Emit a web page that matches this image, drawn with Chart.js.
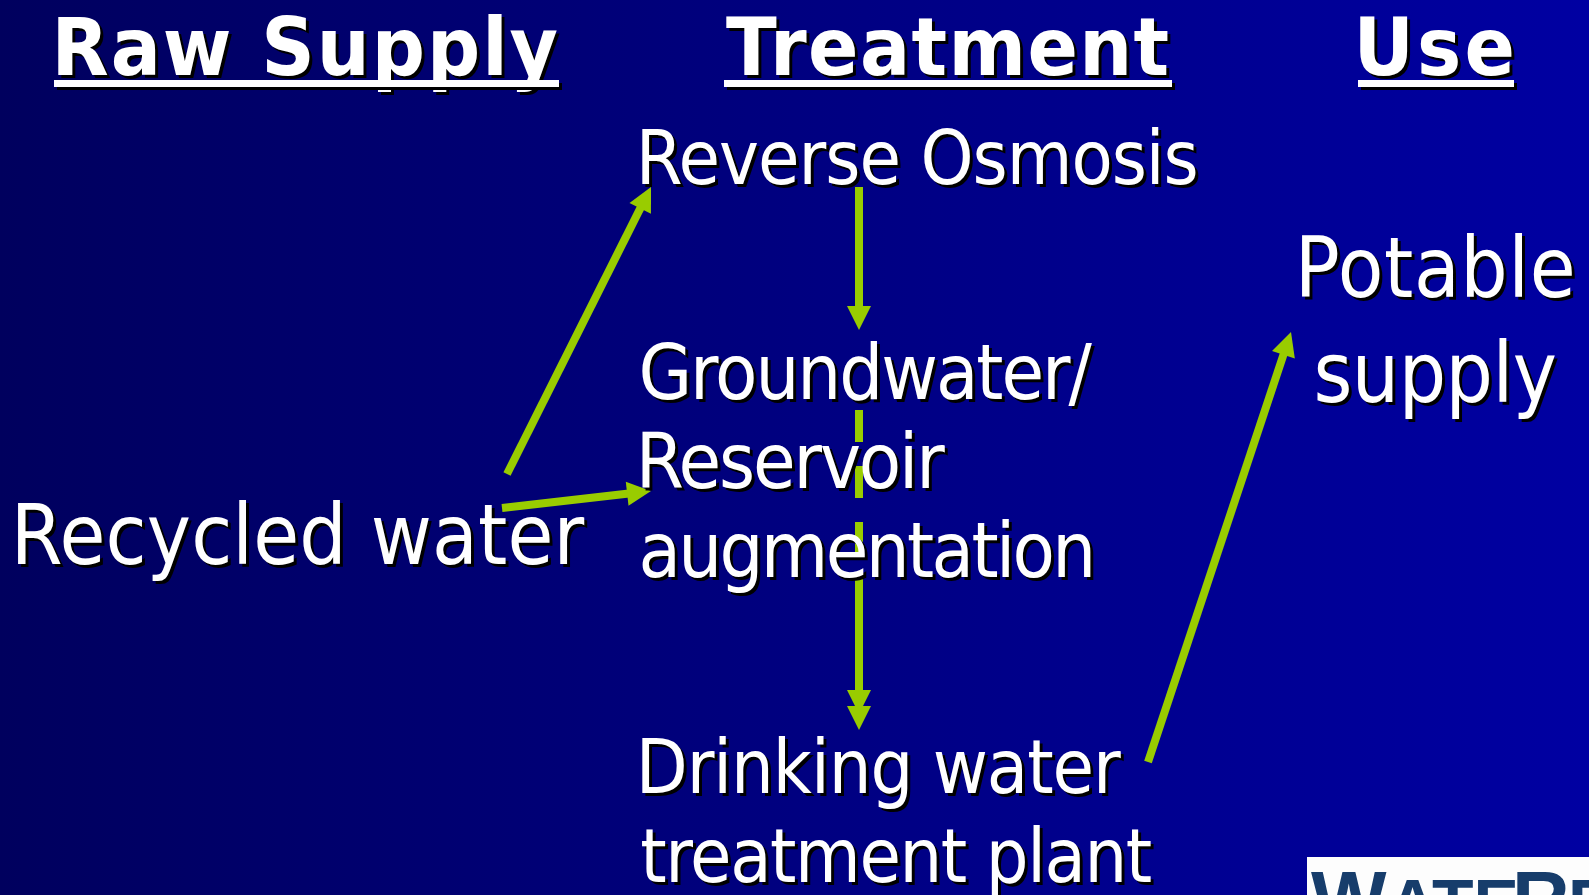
<!DOCTYPE html>
<html>
<head>
<meta charset="utf-8">
<script src="https://cdn.jsdelivr.net/npm/chart.js@4.4.0/dist/chart.umd.min.js"></script>
<style>
  html, body { margin: 0; padding: 0; background: #000066; overflow: hidden; }
  #wrap { width: 1589px; height: 895px; position: relative; }
</style>
</head>
<body>
<div id="wrap"><canvas id="slide"></canvas></div>
<script>
// slide units: 1589 x 895, y counted from the top
const headers = ["Raw Supply", "Treatment", "Use"];
const labels = ["Reverse Osmosis", "Groundwater/", "Reservoir", "augmentation",
                "Drinking water", "treatment plant", "Recycled water", "Potable", "supply"];

// arrows (tail -> tip)
const arrowTailX = [507, 502, 859, 859, 1148];
const arrowTailY = [474, 508, 187, 578, 762];
const arrowTipX  = [651, 651, 859, 859, 1291];
const arrowTipY  = [187, 491, 330, 730, 332];
// broken piece of the lower middle arrow, seen between the text lines
const dashX = [859, 859];
const dashY = [410, 560];
// the lower arrow has a second head just above its tip
const extraHeadX = 859;
const extraHeadY = 714;

// where the texts sit: ink left, baseline, ink width, font size
const headerPos = [
  { x: 58, y: 75, w: 499, size: 80 },
  { x: 726, y: 75, w: 442, size: 80 },
  { x: 1360, y: 75, w: 152, size: 80 }
];
const underlinePos = [[54, 559], [724, 1172], [1358, 1514]];
const labelPos = [
  { x: 642, y: 184, w: 554, size: 75 },
  { x: 642, y: 399, w: 450, size: 77 },
  { x: 642, y: 488, w: 303, size: 77 },
  { x: 642, y: 577, w: 449, size: 77 },
  { x: 642, y: 793, w: 479, size: 75 },
  { x: 642, y: 882, w: 509, size: 75 },
  { x: 18, y: 564, w: 567, size: 83 },
  { x: 1302, y: 297, w: 270, size: 83 },
  { x: 1317, y: 402, w: 238, size: 83 }
];

const GREEN = '#99cc00';
const HEAD_LEN = 24;
const HEAD_HALF = 12;

// line datasets stop near the base of the head, the head is drawn by the plugin
const datasets = arrowTailX.map((tx, i) => {
  const dx = arrowTipX[i] - tx, dy = arrowTipY[i] - arrowTailY[i];
  const len = Math.hypot(dx, dy);
  return {
    data: [
      { x: tx, y: arrowTailY[i] },
      { x: arrowTipX[i] - dx / len * (HEAD_LEN - 4), y: arrowTipY[i] - dy / len * (HEAD_LEN - 4) }
    ],
    showLine: true, borderColor: GREEN, borderWidth: 8, pointRadius: 0, borderCapStyle: 'butt'
  };
});
datasets.push({
  data: [{ x: dashX[0], y: dashY[0] }, { x: dashX[1], y: dashY[1] }],
  showLine: true, borderColor: GREEN, borderWidth: 8, pointRadius: 0,
  borderDash: [32, 24], borderCapStyle: 'butt'
});

function drawHead(ctx, x0, y0, x1, y1) {
  const a = Math.atan2(y1 - y0, x1 - x0);
  ctx.save();
  ctx.translate(x1, y1);
  ctx.rotate(a);
  ctx.beginPath();
  ctx.moveTo(0, 0);
  ctx.lineTo(-HEAD_LEN, -HEAD_HALF);
  ctx.lineTo(-HEAD_LEN, HEAD_HALF);
  ctx.closePath();
  ctx.fillStyle = GREEN;
  ctx.fill();
  ctx.restore();
}

// text with a hard black shadow; narrower glyphs (Tahoma-like) and fit to the measured width
function slideText(ctx, str, p, font, squeeze) {
  ctx.save();
  ctx.font = font;
  ctx.textBaseline = 'alphabetic';
  ctx.textAlign = 'left';
  ctx.letterSpacing = '0px';
  let m = ctx.measureText(str);
  const ink0 = m.actualBoundingBoxLeft + m.actualBoundingBoxRight;
  const ls = (p.w / squeeze - ink0) / (str.length - 1);
  ctx.letterSpacing = ls.toFixed(2) + 'px';
  m = ctx.measureText(str);
  const ink = m.actualBoundingBoxLeft + m.actualBoundingBoxRight;
  const sx = p.w / ink;
  ctx.translate(p.x + m.actualBoundingBoxLeft * sx, p.y);
  ctx.scale(sx, 1);
  ctx.fillStyle = '#000000';
  ctx.fillText(str, 3 / sx, 3);
  ctx.fillStyle = '#ffffff';
  ctx.fillText(str, 0, 0);
  ctx.restore();
}

const slidePlugin = {
  id: 'slide',
  beforeDraw(chart) {
    const { ctx } = chart;
    const g = ctx.createLinearGradient(0, 0, chart.width, 0);
    g.addColorStop(0, '#00005e');
    g.addColorStop(1, '#0000a2');
    ctx.save();
    ctx.fillStyle = g;
    ctx.fillRect(0, 0, chart.width, chart.height);
    ctx.restore();
  },
  afterDatasetsDraw(chart) {
    const { ctx, scales } = chart;
    const px = v => scales.x.getPixelForValue(v);
    const py = v => scales.y.getPixelForValue(v);

    arrowTailX.forEach((tx, i) => {
      drawHead(ctx, px(tx), py(arrowTailY[i]), px(arrowTipX[i]), py(arrowTipY[i]));
    });
    drawHead(ctx, px(extraHeadX), py(extraHeadY - 40), px(extraHeadX), py(extraHeadY));

    headers.forEach((h, i) => {
      slideText(ctx, h, headerPos[i], 'bold ' + headerPos[i].size + 'px "DejaVu Sans"', 0.93);
      const [u0, u1] = underlinePos[i];
      ctx.fillStyle = '#000000';
      ctx.fillRect(u0 + 3, 83, u1 - u0, 7);
      ctx.fillStyle = '#ffffff';
      ctx.fillRect(u0, 80, u1 - u0, 7);
    });

    labels.forEach((t, i) => {
      slideText(ctx, t, labelPos[i], labelPos[i].size + 'px "DejaVu Sans"', 0.9);
    });

    // logo corner, cut by the slide edge
    ctx.save();
    ctx.beginPath();
    ctx.rect(1307, 857, chart.width - 1307, chart.height - 857);
    ctx.clip();
    ctx.fillStyle = '#fdfdfd';
    ctx.fillRect(1307, 857, chart.width - 1307, chart.height - 857);
    ctx.fillStyle = '#173d6b';
    ctx.textBaseline = 'alphabetic';
    ctx.font = 'bold 80px "Liberation Sans"';
    ctx.fillText('W', 1311, 927);
    ctx.font = 'bold 68px "Liberation Sans"';
    ctx.fillText('ATE', 1388, 927);
    ctx.font = 'bold 80px "Liberation Sans"';
    ctx.fillText('R', 1512, 927);
    ctx.font = 'bold 68px "Liberation Sans"';
    ctx.fillText('E', 1568, 927);
    ctx.restore();
  }
};

new Chart(document.getElementById('slide'), {
  type: 'scatter',
  data: { datasets: datasets },
  options: {
    responsive: true,
    maintainAspectRatio: false,
    animation: false,
    layout: { padding: 0 },
    plugins: { legend: { display: false }, tooltip: { enabled: false } },
    scales: {
      x: { type: 'linear', min: 0, max: 1589, display: false },
      y: { type: 'linear', min: 0, max: 895, reverse: true, display: false }
    }
  },
  plugins: [slidePlugin]
});
</script>
</body>
</html>
